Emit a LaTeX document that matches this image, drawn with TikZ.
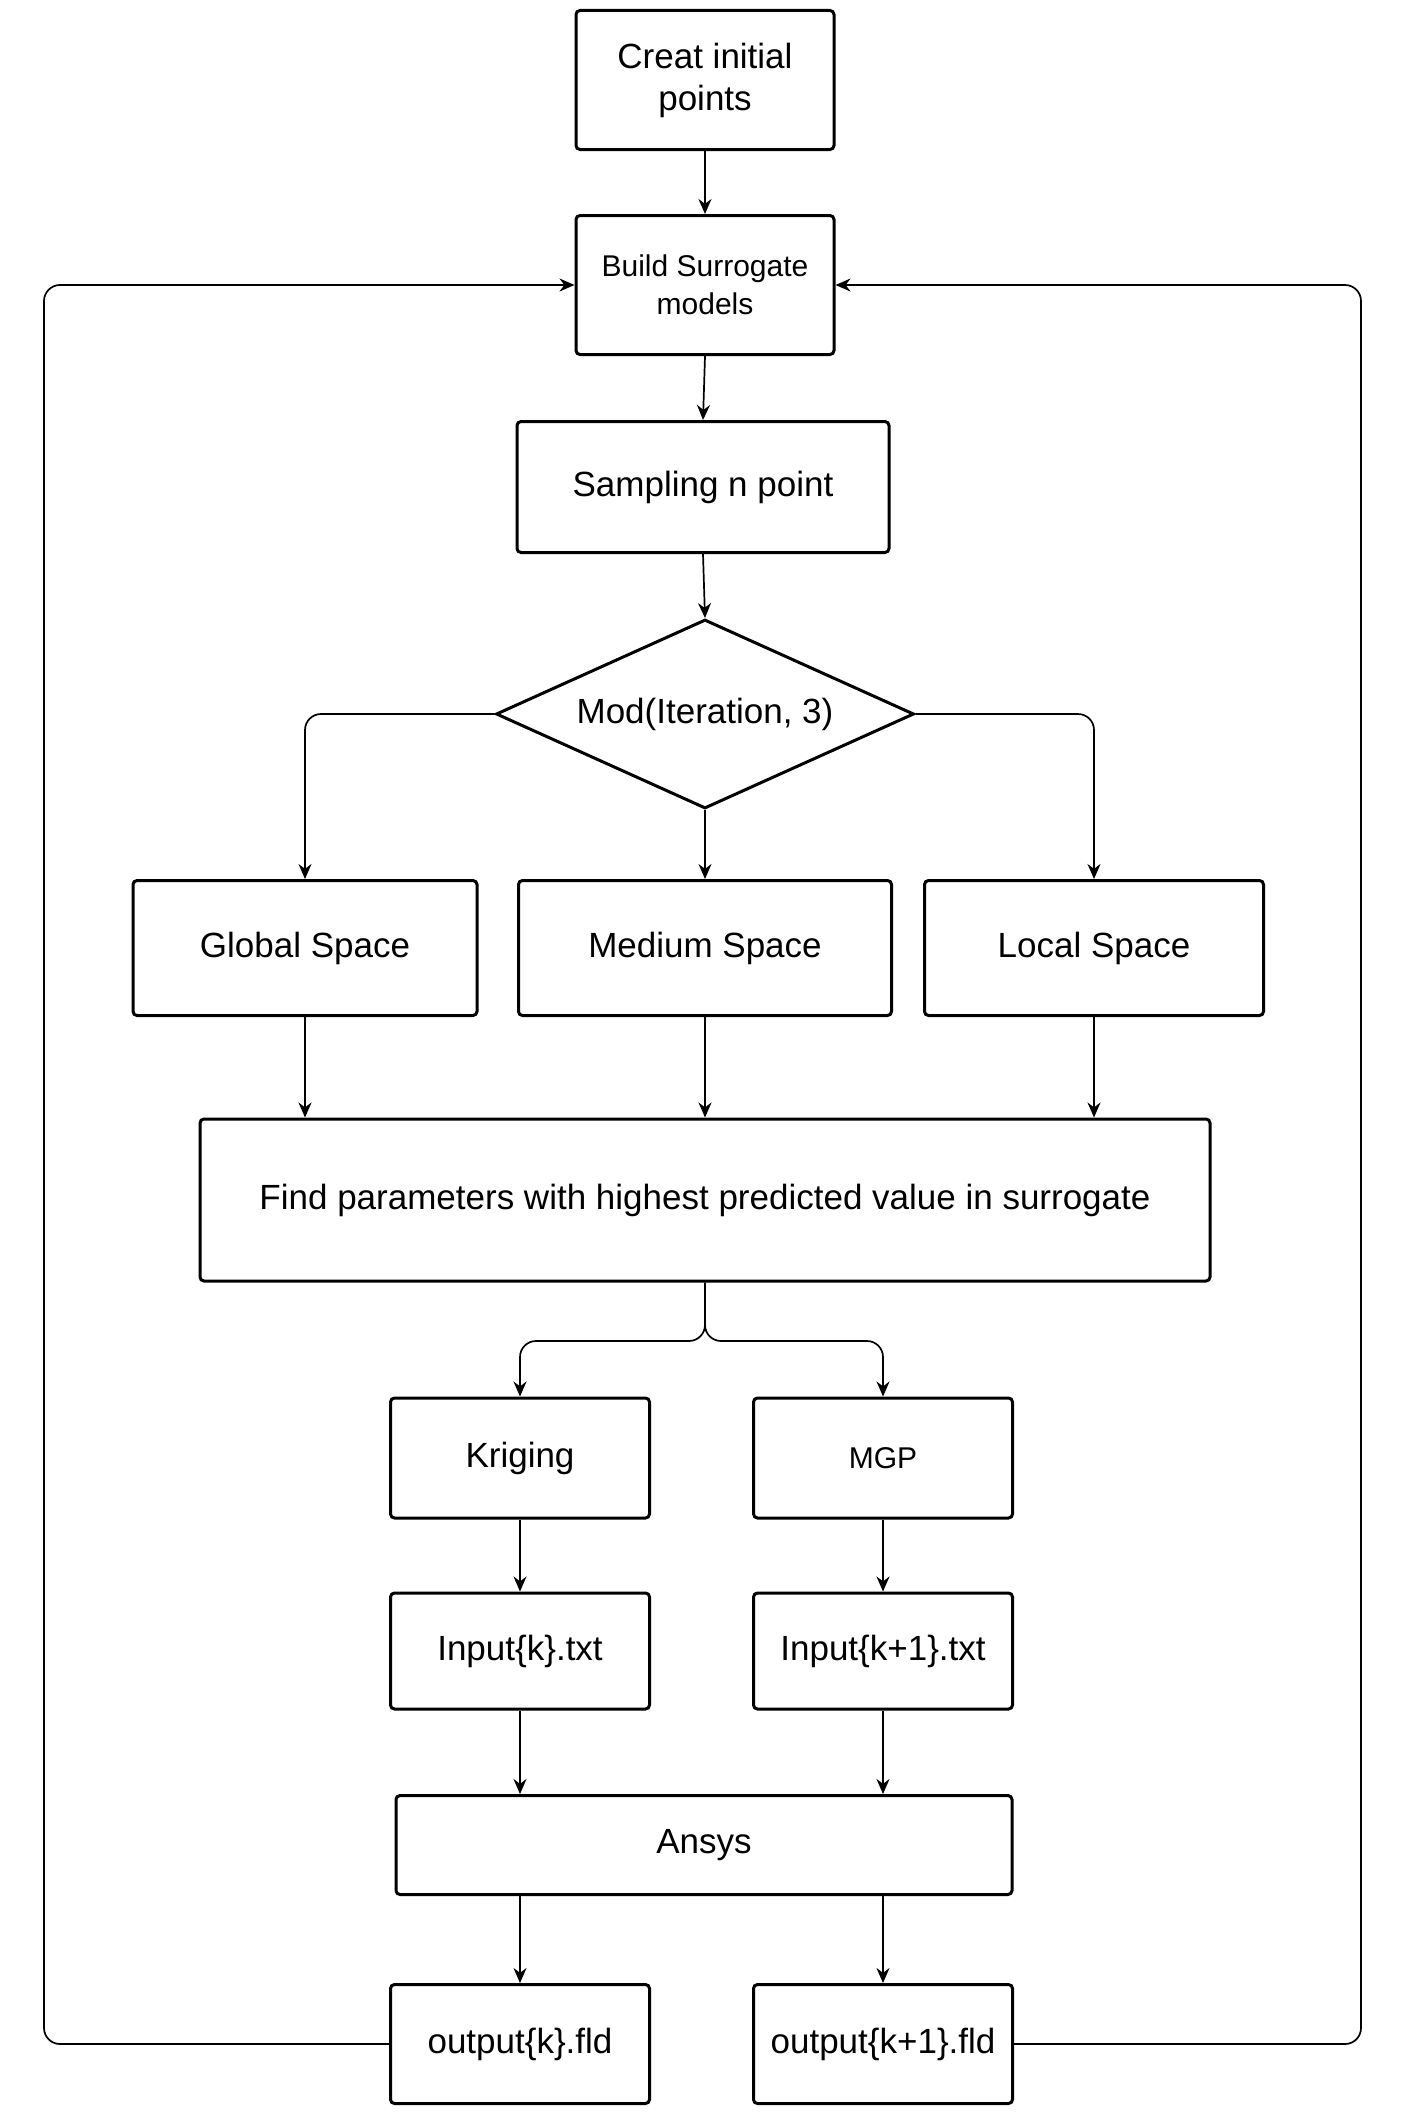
\documentclass[tikz,border=0pt]{standalone}
\usepackage{fontspec}
\setmainfont{Liberation Sans}
\usetikzlibrary{shapes.geometric, positioning}
\usetikzlibrary{arrows.meta}
\tikzset{>={Stealth[width=6.5pt,length=7.5pt]}}

\begin{document}
\begin{tikzpicture}[x=0.5pt, y=-0.5pt, box/.style={rectangle, rounded corners=2pt, draw=black, line width=1.5pt, align=center, inner sep=2pt, font=\fontsize{17.5}{21}\selectfont}, smallbox/.style={box, font=\fontsize{15}{19}\selectfont}, decision/.style={diamond, draw=black, line width=1.5pt, aspect=2.2, inner sep=1pt, minimum width=209pt, minimum height=94.5pt, font=\fontsize{17.5}{21}\selectfont}, link/.style={->, line width=0.85pt, rounded corners=8pt}]
    \useasboundingbox (0,0) rectangle (1410,2114);

    %Nodes
    \node[box, minimum width=129pt, minimum height=69.5pt](creat) at (705,80){Creat initial\\points};
    \node[smallbox, minimum width=129pt, minimum height=69.5pt](build) at (705,285){Build Surrogate\\models};
    \node[box, minimum width=186pt, minimum height=65.5pt](sampling) at (703,487){Sampling n point};
    \node[decision](mod) at (705,714){Mod(Iteration, 3)};
    \node[box, minimum width=172pt, minimum height=67.5pt](global) at (305,948){Global Space};
    \node[box, minimum width=186.5pt, minimum height=67.5pt](medium) at (705,948){Medium Space};
    \node[box, minimum width=169.5pt, minimum height=67.5pt](local) at (1094,948){Local Space};
    \node[box, minimum width=505pt, minimum height=81pt](find) at (705,1200){Find parameters with highest predicted value in surrogate};
    \node[box, minimum width=129.5pt, minimum height=60pt](kriging) at (520,1458){Kriging};
    \node[smallbox, minimum width=129.5pt, minimum height=60pt](mgp) at (883,1458){MGP};
    \node[box, minimum width=129.5pt, minimum height=58pt](inputk) at (520,1651){Input\{k\}.txt};
    \node[box, minimum width=129.5pt, minimum height=58pt](inputk1) at (883,1651){Input\{k+1\}.txt};
    \node[box, minimum width=308pt, minimum height=49.5pt](ansys) at (704,1845){Ansys};
    \node[box, minimum width=129.5pt, minimum height=59.5pt](outputk) at (520,2044){output\{k\}.fld};
    \node[box, minimum width=129.5pt, minimum height=59.5pt](outputk1) at (883,2044){output\{k+1\}.fld};

    \coordinate (split) at (705,1341);
    \coordinate (lbot) at (44,2044);
    \coordinate (ltop) at (44,285);
    \coordinate (rbot) at (1361,2044);
    \coordinate (rtop) at (1361,285);

    %Lines
    \draw[link] (creat.south) -- (build.north);
    \draw[link] (build.south) -- (sampling.north);
    \draw[link] (sampling.south) -- (mod.north);
    \draw[link] (mod.west) -| (global.north);
    \draw[link] (mod.south) -- (medium.north);
    \draw[link] (mod.east) -| (local.north);
    \draw[link] (global.south) -- (global.south |- find.north);
    \draw[link] (medium.south) -- (medium.south |- find.north);
    \draw[link] (local.south) -- (local.south |- find.north);
    \draw[link] (find.south) -- (split) -| (kriging.north);
    \draw[link] (find.south) -- (split) -| (mgp.north);
    \draw[link] (kriging.south) -- (inputk.north);
    \draw[link] (mgp.south) -- (inputk1.north);
    \draw[link] (inputk.south) -- (inputk.south |- ansys.north);
    \draw[link] (inputk1.south) -- (inputk1.south |- ansys.north);
    \draw[link] (ansys.south -| outputk.north) -- (outputk.north);
    \draw[link] (ansys.south -| outputk1.north) -- (outputk1.north);
    \draw[link] (outputk.west) -- (lbot) -- (ltop) -- (build.west);
    \draw[link] (outputk1.east) -- (rbot) -- (rtop) -- (build.east);

\end{tikzpicture}
\end{document}
